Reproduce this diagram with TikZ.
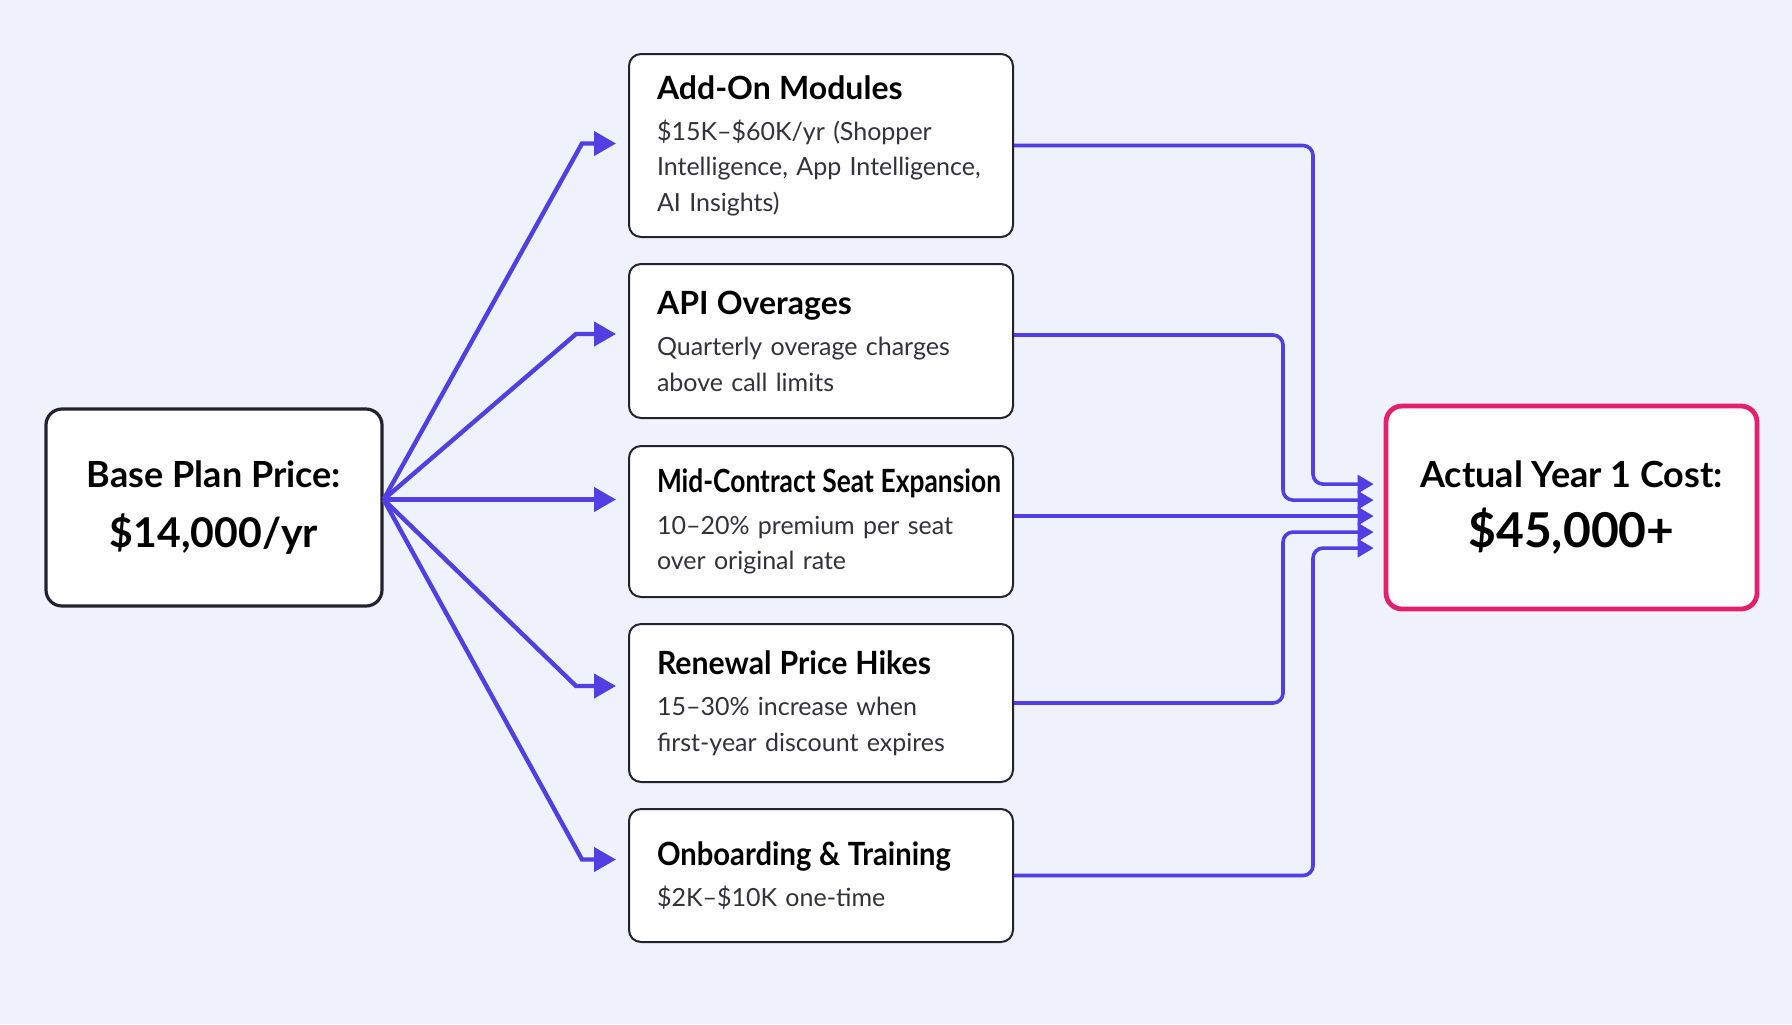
\documentclass[tikz,border=0pt]{standalone}
\usepackage{fontspec}
\setmainfont{Lato}
\usepackage{graphicx}
\usetikzlibrary{arrows.meta,positioning}

\definecolor{pagebg}{RGB}{239,241,252}
\definecolor{feedblue}{RGB}{82,62,226}
\definecolor{totalpink}{RGB}{226,32,108}
\definecolor{boxline}{RGB}{34,34,48}
\definecolor{bodytext}{RGB}{50,50,58}

\newcommand{\cardtitle}[1]{{\fontsize{16}{20}\selectfont\bfseries\color{black}#1}\\[3pt]}

\begin{document}
\begin{tikzpicture}[x=0.5pt,y=-0.5pt,
    card/.style={draw=boxline, line width=1pt, fill=white, rounded corners=6pt,
      text width=164pt, inner xsep=14pt, align=left, text=bodytext,
      font=\fontsize{12.5}{17.7}\selectfont},
    basebox/.style={draw=boxline, line width=1.6pt, fill=white, rounded corners=8pt,
      minimum width=168pt, minimum height=98.5pt, align=center,
      font=\fontsize{18}{30}\selectfont\bfseries},
    totalbox/.style={draw=totalpink, line width=2.4pt, fill=white, rounded corners=8pt,
      minimum width=185.5pt, minimum height=101.5pt, align=center,
      font=\fontsize{18}{30}\selectfont\bfseries},
    feed/.style={draw=feedblue, line width=2.2pt, -{Triangle[length=11pt,width=12pt]},
      shorten >=6pt},
    sum/.style={draw=feedblue, line width=1.8pt, rounded corners=5pt,
      -{Triangle[length=8pt,width=9pt]}, shorten >=5pt}]

    % Background
    \fill[pagebg] (0,0) rectangle (1792,1024);
    \useasboundingbox (0,0) rectangle (1792,1024);

    % Draw the boxes
    \node[basebox] (base) at (214,507.5) {Base Plan Price:\\{\fontsize{20.5}{30}\selectfont \$14,000/yr}};

    \node[card, minimum height=91.5pt] (addon) at (821,145.5)
      {\cardtitle{Add-On Modules}\$15K--\$60K/yr (Shopper\\Intelligence, App Intelligence,\\AI Insights)};
    \node[card, minimum height=77pt] (api) at (821,341)
      {\cardtitle{API Overages}Quarterly overage charges\\above call limits};
    \node[card, minimum height=75.5pt] (seat) at (821,521.5)
      {\cardtitle{\resizebox{172pt}{\height}{Mid-Contract Seat Expansion}}10--20\% premium per seat\\over original rate};
    \node[card, minimum height=79pt] (renew) at (821,703)
      {\cardtitle{\resizebox{137pt}{\height}{Renewal Price Hikes}}15--30\% increase when\\first-year discount expires};
    \node[card, minimum height=66.5pt] (onboard) at (821,875.5)
      {\cardtitle{\resizebox{147pt}{\height}{Onboarding \& Training}}\$2K--\$10K one-time};

    \node[totalbox] (total) at (1571.5,507.5) {Actual Year 1 Cost:\\{\fontsize{24}{30}\selectfont \$45,000+}};

    % Fan out from the base price
    \coordinate (hub) at ([yshift=4pt]base.east);
    \draw[feed] (hub) -- ([xshift=-23pt,yshift=1pt]addon.west) -- ([yshift=1pt]addon.west);
    \draw[feed] (hub) -- ([xshift=-26pt,yshift=3.5pt]api.west) -- ([yshift=3.5pt]api.west);
    \draw[feed] (hub) -- ([yshift=11pt]seat.west);
    \draw[feed] (hub) -- ([xshift=-26pt,yshift=8.5pt]renew.west) -- ([yshift=8.5pt]renew.west);
    \draw[feed] (hub) -- ([xshift=-23pt,yshift=8pt]onboard.west) -- ([yshift=8pt]onboard.west);

    % Collect everything into the total
    \coordinate (outer) at (1313,0);
    \coordinate (inner) at (1283,0);
    \coordinate (in1) at ([yshift=11.7pt]total.west);
    \coordinate (in2) at ([yshift=3.7pt]total.west);
    \coordinate (in3) at ([yshift=-4.3pt]total.west);
    \coordinate (in4) at ([yshift=-12.3pt]total.west);
    \coordinate (in5) at ([yshift=-20.3pt]total.west);

    \draw[sum] (addon.east) -| (outer |- in1) -- (in1);
    \draw[sum] ([yshift=3pt]api.east) -| (inner |- in2) -- (in2);
    \draw[sum] (seat.east |- in3) -- (in3);
    \draw[sum] (renew.east) -| (inner |- in4) -- (in4);
    \draw[sum] (onboard.east) -| (outer |- in5) -- (in5);

\end{tikzpicture}
\end{document}
